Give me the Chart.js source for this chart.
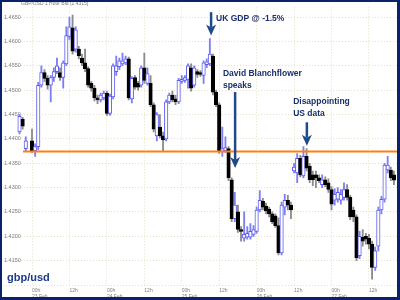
<!DOCTYPE html>
<html>
<head>
<meta charset="utf-8">
<script src="https://cdn.jsdelivr.net/npm/chart.js@4.4.0/dist/chart.umd.min.js"></script>
<style>
  html, body { margin: 0; padding: 0; background: #fff; }
  #wrap { width: 400px; height: 300px; }
</style>
</head>
<body>
<div id="wrap"><canvas id="fxChart" width="400" height="300"></canvas></div>
<script>
// GBP/USD hourly bars, hour 0 = 23 Feb 00h, first bar = 22 Feb 20h
const firstHour = -4;

const openPrices = [
  1.4414, 1.4440, 1.4380, null, 1.4396, 1.4376, 1.4384, 1.4510, 1.4536, 1.4524,
  1.4510, 1.4526, 1.4538, 1.4536, 1.4526, 1.4554, 1.4610, 1.4628, 1.4584, 1.4584,
  1.4566, 1.4556, 1.4544, 1.4514, 1.4504, 1.4484, 1.4480, 1.4484, 1.4494, 1.4452,
  1.4486, 1.4538, 1.4548, 1.4554, 1.4556, 1.4564, 1.4482, 1.4526, 1.4514, 1.4510,
  1.4546, 1.4514, 1.4514, 1.4470, 1.4406, 1.4424, 1.4406, 1.4400, 1.4476, 1.4490,
  1.4482, 1.4476, 1.4518, 1.4520, 1.4522, 1.4546, 1.4510, 1.4538, 1.4536, 1.4530,
  1.4552, 1.4554, 1.4570, 1.4496, 1.4470, 1.4374, 1.4376, 1.4380, 1.4316, 1.4236,
  1.4250, 1.4214, 1.4196, 1.4198, 1.4198, 1.4204, 1.4210, 1.4254, 1.4272, 1.4262,
  1.4256, 1.4246, 1.4242, 1.4222, 1.4166, 1.4260, 1.4274, 1.4264, 1.4334, 1.4330,
  1.4360, 1.4324, 1.4364, 1.4344, 1.4326, 1.4326, 1.4320, 1.4306, 1.4316, 1.4310,
  1.4296, 1.4274, 1.4276, 1.4274, 1.4280, 1.4296, 1.4280, 1.4254, 1.4240, 1.4160,
  1.4198, 1.4200, 1.4196, 1.4184, 1.4136, 1.4180, 1.4254, 1.4276, 1.4336, 1.4336,
  1.4326
];
const highPrices = [
  1.4450, 1.4444, 1.4404, null, 1.4420, 1.4390, 1.4516, 1.4550, 1.4542, 1.4530,
  1.4530, 1.4546, 1.4566, 1.4546, 1.4560, 1.4630, 1.4650, 1.4654, 1.4630, 1.4590,
  1.4574, 1.4584, 1.4548, 1.4518, 1.4510, 1.4490, 1.4494, 1.4498, 1.4498, 1.4492,
  1.4554, 1.4570, 1.4566, 1.4576, 1.4570, 1.4568, 1.4528, 1.4530, 1.4518, 1.4550,
  1.4576, 1.4546, 1.4530, 1.4474, 1.4454, 1.4450, 1.4414, 1.4480, 1.4494, 1.4498,
  1.4490, 1.4524, 1.4530, 1.4530, 1.4554, 1.4554, 1.4550, 1.4542, 1.4540, 1.4560,
  1.4564, 1.4606, 1.4574, 1.4500, 1.4474, 1.4424, 1.4404, 1.4384, 1.4320, 1.4290,
  1.4264, 1.4220, 1.4250, 1.4220, 1.4226, 1.4222, 1.4260, 1.4294, 1.4278, 1.4268,
  1.4260, 1.4250, 1.4246, 1.4238, 1.4270, 1.4286, 1.4284, 1.4270, 1.4350, 1.4370,
  1.4366, 1.4384, 1.4380, 1.4350, 1.4334, 1.4334, 1.4326, 1.4326, 1.4322, 1.4318,
  1.4302, 1.4298, 1.4300, 1.4296, 1.4310, 1.4306, 1.4284, 1.4260, 1.4244, 1.4210,
  1.4214, 1.4206, 1.4204, 1.4190, 1.4178, 1.4260, 1.4282, 1.4350, 1.4364, 1.4342,
  1.4334
];
const lowPrices = [
  1.4410, 1.4420, 1.4376, null, 1.4372, 1.4364, 1.4378, 1.4506, 1.4518, 1.4502,
  1.4476, 1.4518, 1.4534, 1.4520, 1.4504, 1.4550, 1.4604, 1.4574, 1.4578, 1.4564,
  1.4550, 1.4538, 1.4506, 1.4498, 1.4478, 1.4472, 1.4476, 1.4480, 1.4448, 1.4448,
  1.4482, 1.4530, 1.4542, 1.4550, 1.4552, 1.4480, 1.4474, 1.4502, 1.4500, 1.4506,
  1.4514, 1.4510, 1.4466, 1.4414, 1.4396, 1.4402, 1.4376, 1.4396, 1.4472, 1.4476,
  1.4470, 1.4472, 1.4514, 1.4516, 1.4504, 1.4498, 1.4506, 1.4526, 1.4528, 1.4514,
  1.4546, 1.4550, 1.4490, 1.4466, 1.4370, 1.4364, 1.4372, 1.4314, 1.4230, 1.4230,
  1.4208, 1.4190, 1.4190, 1.4194, 1.4194, 1.4200, 1.4206, 1.4250, 1.4254, 1.4246,
  1.4240, 1.4226, 1.4218, 1.4162, 1.4162, 1.4244, 1.4254, 1.4236, 1.4330, 1.4310,
  1.4322, 1.4320, 1.4334, 1.4310, 1.4304, 1.4300, 1.4310, 1.4300, 1.4302, 1.4290,
  1.4254, 1.4264, 1.4270, 1.4266, 1.4274, 1.4274, 1.4234, 1.4230, 1.4150, 1.4154,
  1.4180, 1.4184, 1.4174, 1.4112, 1.4130, 1.4170, 1.4246, 1.4270, 1.4330, 1.4314,
  1.4306
];
const closePrices = [
  1.4446, 1.4426, 1.4396, null, 1.4376, 1.4384, 1.4510, 1.4536, 1.4524, 1.4510,
  1.4526, 1.4538, 1.4550, 1.4526, 1.4556, 1.4612, 1.4630, 1.4580, 1.4624, 1.4570,
  1.4556, 1.4544, 1.4510, 1.4504, 1.4484, 1.4480, 1.4490, 1.4494, 1.4452, 1.4488,
  1.4550, 1.4550, 1.4560, 1.4560, 1.4564, 1.4484, 1.4524, 1.4506, 1.4506, 1.4546,
  1.4520, 1.4534, 1.4470, 1.4420, 1.4450, 1.4406, 1.4398, 1.4476, 1.4490, 1.4480,
  1.4476, 1.4520, 1.4522, 1.4526, 1.4550, 1.4504, 1.4546, 1.4532, 1.4532, 1.4556,
  1.4558, 1.4574, 1.4496, 1.4470, 1.4376, 1.4380, 1.4382, 1.4320, 1.4236, 1.4264,
  1.4214, 1.4210, 1.4204, 1.4206, 1.4210, 1.4214, 1.4254, 1.4274, 1.4260, 1.4252,
  1.4246, 1.4230, 1.4222, 1.4166, 1.4264, 1.4274, 1.4264, 1.4254, 1.4342, 1.4360,
  1.4326, 1.4364, 1.4340, 1.4316, 1.4316, 1.4320, 1.4314, 1.4316, 1.4306, 1.4296,
  1.4266, 1.4286, 1.4290, 1.4286, 1.4296, 1.4280, 1.4240, 1.4240, 1.4156, 1.4200,
  1.4190, 1.4194, 1.4184, 1.4136, 1.4170, 1.4254, 1.4276, 1.4346, 1.4346, 1.4320,
  1.4315
];

const yTickValues = [1.4650, 1.4600, 1.4550, 1.4500, 1.4450, 1.4400, 1.4350,
  1.4300, 1.4250, 1.4200, 1.4150, 1.4100];
const xTickHours = [0, 12, 24, 36, 48, 60, 72, 84, 96, 108];
const dayLabels = ["23 Feb", "24 Feb", "25 Feb", "26 Feb", "27 Feb"];

const supportLevel = 1.4374;
const supportFrom = -2.9;

const notes = [
  { lines: ["UK GDP @ -1.5%"], textHour: 59.0, textPrice: 1.4646, arrowHour: 57.4, fromPrice: 1.4660, toPrice: 1.4612 },
  { lines: ["David Blanchflower", "speaks"], textHour: 61.2, textPrice: 1.4534, arrowHour: 65.1, fromPrice: 1.4496, toPrice: 1.4340 },
  { lines: ["Disappointing", "US data"], textHour: 83.7, textPrice: 1.4476, arrowHour: 88.1, fromPrice: 1.4434, toPrice: 1.4386 }
];

const chartTitle = "GBP/USD 1 Hour Bid (1.4315)";
const pairName = "gbp/usd";

// build bars
const bodies = [];
const wicks = [];
const bodyFill = [];
const bodyLine = [];
const wickColor = [];
for (let i = 0; i < openPrices.length; i++) {
  if (openPrices[i] === null) continue;
  const h = firstHour + i;
  const up = closePrices[i] >= openPrices[i];
  bodies.push({ x: h, y: [openPrices[i], closePrices[i]] });
  wicks.push({ x: h, y: [lowPrices[i], highPrices[i]] });
  bodyFill.push(up ? "#ffffff" : "#000000");
  bodyLine.push(up ? "#5c5cf2" : "#000000");
  wickColor.push(up ? "#7f7ff5" : "#8c8c8c");
}

const navy = "#1c2f6c";
const arrowBlue = "#1f4a8a";

const decorPlugin = {
  id: "decor",
  beforeDraw(chart) {
    const ctx = chart.ctx;
    ctx.save();
    ctx.fillStyle = "#ffffff";
    ctx.fillRect(0, 0, chart.width, chart.height);
    ctx.restore();
  },
  afterDatasetsDraw(chart) {
    const ctx = chart.ctx;
    const xs = chart.scales.x;
    const ys = chart.scales.y;
    ctx.save();
    notes.forEach((n) => {
      const ax = xs.getPixelForValue(n.arrowHour);
      const y1 = ys.getPixelForValue(n.fromPrice);
      const y2 = ys.getPixelForValue(n.toPrice);
      const head = 11;
      ctx.strokeStyle = arrowBlue;
      ctx.lineWidth = 2.5;
      ctx.beginPath();
      ctx.moveTo(ax, y1);
      ctx.lineTo(ax, y2 - head + 3);
      ctx.stroke();
      ctx.fillStyle = arrowBlue;
      ctx.beginPath();
      ctx.moveTo(ax - 5, y2 - head);
      ctx.lineTo(ax, y2 - head + 3);
      ctx.lineTo(ax + 5, y2 - head);
      ctx.lineTo(ax, y2);
      ctx.closePath();
      ctx.fill();

      const tx = xs.getPixelForValue(n.textHour);
      const ty = ys.getPixelForValue(n.textPrice);
      ctx.fillStyle = navy;
      ctx.font = 'bold 8.5px "Liberation Sans", Arial, sans-serif';
      ctx.textAlign = "left";
      ctx.textBaseline = "middle";
      n.lines.forEach((line, k) => ctx.fillText(line, tx, ty + k * 12));
    });
    ctx.restore();
  },
  afterDraw(chart) {
    const ctx = chart.ctx;
    ctx.save();
    ctx.fillStyle = "#777777";
    ctx.font = '5px "Liberation Sans", Arial, sans-serif';
    ctx.textAlign = "left";
    ctx.textBaseline = "middle";
    ctx.fillText(chartTitle, 21, 4);

    ctx.fillStyle = "#1d3b8c";
    ctx.font = 'bold 11px "Liberation Sans", Arial, sans-serif';
    ctx.textBaseline = "alphabetic";
    ctx.fillText(pairName, 7, 281);

    // frame
    ctx.fillStyle = "#0b2169";
    ctx.fillRect(0, 0, 400, 2);
    ctx.fillRect(0, 0, 2, 300);
    ctx.fillRect(397, 0, 3, 300);
    ctx.fillRect(0, 297, 400, 3);
    ctx.restore();
  }
};

new Chart(document.getElementById("fxChart"), {
  type: "bar",
  data: {
    datasets: [
      {
        type: "line",
        data: [{ x: supportFrom, y: supportLevel }, { x: 118, y: supportLevel }],
        borderColor: "#ff8010",
        borderWidth: 2,
        pointRadius: 0,
        order: 1
      },
      {
        data: bodies,
        backgroundColor: bodyFill,
        borderColor: bodyLine,
        borderWidth: 1,
        borderSkipped: false,
        barThickness: 3.5,
        grouped: false,
        order: 2
      },
      {
        data: wicks,
        backgroundColor: wickColor,
        borderWidth: 0,
        barThickness: 1.2,
        grouped: false,
        order: 3
      }
    ]
  },
  options: {
    responsive: false,
    animation: false,
    events: [],
    layout: { padding: 0 },
    plugins: {
      legend: { display: false },
      tooltip: { enabled: false },
      title: { display: false }
    },
    scales: {
      x: {
        type: "linear",
        min: -10.26,
        max: 117.95,
        offset: false,
        grid: { color: "#e4e0c8", offset: false, drawTicks: false },
        border: { display: false, dash: [1, 2] },
        afterBuildTicks(scale) {
          scale.ticks = xTickHours.map((v) => ({ value: v }));
        },
        afterFit(scale) {
          scale.height = 14;
        },
        ticks: {
          autoSkip: false,
          maxRotation: 0,
          align: "start",
          padding: 1,
          color: "#808080",
          font: { family: "Liberation Sans", size: 5, lineHeight: 1.25 },
          callback(value) {
            if (value % 24 === 0) return ["00h", dayLabels[value / 24]];
            return "12h";
          }
        }
      },
      y: {
        min: 1.4098,
        max: 1.4670,
        grid: { color: "#e4e0c8", drawTicks: false },
        border: { display: false, dash: [1, 2] },
        afterBuildTicks(scale) {
          scale.ticks = yTickValues.map((v) => ({ value: v }));
        },
        afterFit(scale) {
          scale.width = 0;
        },
        ticks: {
          mirror: true,
          padding: 4,
          color: "#808080",
          font: { family: "Liberation Sans", size: 5.5 },
          callback(value) {
            return value > 1.4120 ? value.toFixed(4) : "";
          }
        }
      }
    }
  },
  plugins: [decorPlugin]
});
</script>
</body>
</html>
